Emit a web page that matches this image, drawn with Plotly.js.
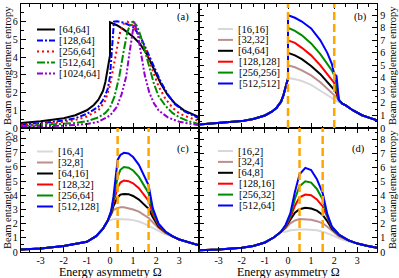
<!DOCTYPE html>
<html><head><meta charset="utf-8">
<script src="https://cdn.plot.ly/plotly-3.0.1.min.js"></script>
<style>html,body{margin:0;padding:0;background:#fff;overflow:hidden}</style>
</head><body><div id="chart" style="width:399px;height:278px"></div>
<script>
// ================= DATA =================
const xTickVals = [-3,-2,-1,0,1,2,3];
const xTickText = ["-3","-2","-1","0","1","2","3"];
const axisTitleY = "Beam entanglement entropy";
const axisTitleX = "Energy asymmetry Ω";
const panelLabels = ["(a)","(b)","(c)","(d)"];

// ---- panel (a) ----
const aLabels = ["[64,64]","[128,64]","[256,64]","[512,64]","[1024,64]"];
const aX64 = [-3.85,-3,-2,-1.5,-1,-0.7,-0.5,-0.3,-0.2,-0.1,-0.03,0,0,0.3,0.6,1.0,1.3,1.6,1.8,2.0,2.2,2.5,2.8,3.2,3.85];
const aY64 = [0.28,0.38,0.55,0.72,1.0,1.3,1.6,2.1,2.6,3.3,3.9,4.1,5.97,5.8,5.55,5.15,4.75,4.15,3.6,3.05,2.5,1.85,1.4,1.0,0.62];
const aX128 = [-3.85,-3,-2,-1.5,-1,-0.5,-0.25,-0.1,0,0.05,0.1,0.17,0.3,0.6,1.0,1.3,1.6,1.8,2.0,2.2,2.5,2.8,3.2,3.85];
const aY128 = [0.2,0.28,0.42,0.55,0.8,1.2,1.7,2.2,2.9,3.8,5.1,6.0,6.02,5.95,5.7,5.2,4.35,3.8,3.2,2.6,1.9,1.35,0.95,0.55];
const aX256 = [-3.85,-3,-2,-1.5,-1,-0.5,-0.2,0,0.15,0.3,0.45,0.6,0.75,0.9,1.1,1.3,1.55,1.8,2.1,2.4,2.7,3.0,3.4,3.85];
const aY256 = [0.15,0.22,0.34,0.45,0.65,1.0,1.55,2.4,3.4,4.6,5.5,5.9,6.0,5.9,5.55,5.1,4.4,3.4,2.35,1.65,1.15,0.82,0.6,0.4];
const aX512 = [-3.85,-3,-2,-1.5,-1,-0.5,-0.2,0,0.2,0.4,0.6,0.75,0.9,1.0,1.15,1.3,1.5,1.7,1.9,2.1,2.4,2.7,3.0,3.4,3.85];
const aY512 = [0.1,0.15,0.22,0.28,0.38,0.6,0.85,1.15,1.8,2.9,4.4,5.4,5.95,6.0,5.8,5.3,4.4,3.5,2.5,1.8,1.25,0.85,0.6,0.38,0.22];
const aX1024 = [-3.85,-3,-2,-1,-0.5,0,0.3,0.5,0.7,0.85,1.0,1.05,1.2,1.35,1.5,1.7,1.9,2.1,2.5,3.0,3.85];
const aY1024 = [0.08,0.1,0.13,0.22,0.35,0.7,1.2,1.9,2.9,4.3,5.7,6.0,5.3,4.1,3.0,2.0,1.4,1.0,0.6,0.35,0.15];

// ---- panel (b) ----
const bLabels = ["[16,16]","[32,32]","[64,64]","[128,128]","[256,256]","[512,512]"];
const bLeftX = [-3.85,-3,-2,-1.5,-1,-0.7,-0.5,-0.3,-0.2,-0.1,-0.03,0];
const bLeftY = [0.28,0.38,0.55,0.72,1.0,1.3,1.6,2.1,2.6,3.3,3.75,3.95];
const bMidX = [0,0.3,0.6,1.0,1.4,1.7,1.9,2.0,2.1,2.2];
const bY16  = [4.0,3.9,3.75,3.45,3.0,2.65,2.4,2.25,2.15,2.1];
const bY32  = [5.0,4.85,4.6,4.2,3.65,3.15,2.85,2.65,2.45,2.15];
const bY64  = [6.0,5.8,5.5,4.95,4.3,3.7,3.3,3.05,2.75,2.25];
const bY128 = [7.0,6.8,6.4,5.8,5.0,4.3,3.9,3.6,3.0,2.25];
const bY256 = [8.0,7.75,7.4,6.75,5.9,5.1,4.6,4.2,3.5,2.25];
const bY512 = [9.0,8.8,8.5,7.95,7.0,6.0,5.1,4.3,4.15,2.25];
const bRightX = [2.35,2.5,2.8,3.2,3.5,3.85];
const bRightY = [1.95,1.8,1.42,1.02,0.83,0.62];
const bLines = [0, 2];

// ---- panel (c) ----
const cLabels = ["[16,4]","[32,8]","[64,16]","[128,32]","[256,64]","[512,128]"];
const cLeftX = [-3.85,-3,-2,-1.5,-1,-0.6,-0.3,-0.1];
const cLeftY = [0.17,0.25,0.42,0.55,0.72,1.12,1.65,2.2];
const cMidX = [0.05,0.15,0.25,0.33,0.45,0.6,0.8,1.0,1.25,1.5,1.67,1.85,2.1,2.4];
const cY16  = [2.3,2.32,2.33,2.33,2.33,2.33,2.3,2.25,2.15,1.98,1.85,1.7,1.5,1.25];
const cY32  = [2.6,2.95,3.05,3.1,3.15,3.15,3.1,3.0,2.85,2.6,2.4,2.1,1.7,1.35];
const cY64  = [2.7,3.25,3.65,3.85,4.05,4.1,4.08,3.95,3.7,3.3,3.05,2.45,1.8,1.38];
const cY128 = [2.8,3.5,4.1,4.55,4.9,5.05,5.0,4.85,4.5,3.95,3.6,2.7,1.9,1.4];
const cY256 = [2.85,3.7,4.6,5.3,5.8,6.0,5.95,5.75,5.3,4.65,4.15,2.9,1.95,1.42];
const cY512 = [2.9,3.9,5.4,6.5,6.85,7.0,6.95,6.7,6.15,5.35,4.7,3.1,2.0,1.45];
const cRightX = [2.7,3.0,3.4,3.85];
const cRightY = [1.1,0.88,0.68,0.47];
const cLines = [0.33, 1.67];

// ---- panel (d) ----
const dLabels = ["[16,2]","[32,4]","[64,8]","[128,16]","[256,32]","[512,64]"];
const dLeftX = [-3.85,-3,-2,-1.5,-1,-0.6,-0.3];
const dLeftY = [0.12,0.17,0.3,0.43,0.68,1.05,1.45];
const dMidX = [-0.1,0.1,0.3,0.5,0.75,1.0,1.25,1.5,1.7,1.9,2.2,2.6];
const dY16  = [1.45,1.55,1.6,1.6,1.6,1.58,1.55,1.45,1.35,1.2,0.98,0.75];
const dY32  = [1.7,2.05,2.25,2.35,2.35,2.3,2.2,2.05,1.8,1.5,1.12,0.82];
const dY64  = [1.8,2.3,2.8,3.05,3.15,3.1,2.95,2.65,2.2,1.65,1.2,0.85];
const dY128 = [1.85,2.45,3.3,3.9,4.1,4.05,3.75,3.25,2.45,1.75,1.22,0.85];
const dY256 = [1.9,2.6,3.8,4.7,5.05,4.95,4.5,3.75,2.6,1.8,1.25,0.85];
const dY512 = [1.95,2.75,4.3,5.55,6.0,5.85,5.2,4.2,2.7,1.8,1.25,0.85];
const dRightX = [3.0,3.4,3.85];
const dRightY = [0.6,0.45,0.3];
const dLines = [0.5, 1.5];

// ================= STYLES =================
const serif = 'Liberation Serif, "Times New Roman", serif';
const aColors = ['#000000','#0000ff','#ff0000','#008c00','#9400d3'];
const aDashes = ['solid','6px,2px,2px,2px','2px,3px','8px,2px,2px,2px','6px,2px,2px,2px,2px,2px'];
const sixColors = ['#d8d8d8','#bc8f8f','#000000','#ff0000','#008c00','#0000ff'];
const lineW = 2;

// ================= BUILD =================
const traces = [];
function add(x, y, xa, ya, color, dash){
  traces.push({x:x, y:y, xaxis:xa, yaxis:ya, type:'scatter', mode:'lines',
    line:{color:color, width:lineW, dash:dash||'solid'}, showlegend:false, hoverinfo:'skip'});
}
const aSeries = [[aX64,aY64],[aX128,aY128],[aX256,aY256],[aX512,aY512],[aX1024,aY1024]];
aSeries.forEach((s,i)=>add(s[0], s[1], 'x','y', aColors[i], aDashes[i]));

const bY = [bY16,bY32,bY64,bY128,bY256,bY512];
bY.forEach((ys,i)=>add(bLeftX.concat(bMidX, bRightX), bLeftY.concat(ys, bRightY), 'x2','y2', sixColors[i]));
const cY = [cY16,cY32,cY64,cY128,cY256,cY512];
cY.forEach((ys,i)=>add(cLeftX.concat(cMidX, cRightX), cLeftY.concat(ys, cRightY), 'x3','y3', sixColors[i]));
const dY = [dY16,dY32,dY64,dY128,dY256,dY512];
dY.forEach((ys,i)=>add(dLeftX.concat(dMidX, dRightX), dLeftY.concat(ys, dRightY), 'x4','y4', sixColors[i]));

// geometry helpers (pixel -> paper)
const L = 21, R = 377, T = 4, B = 252;
const px = v => (v - L) / (R - L);
const py = v => (B - v) / (B - T);

function axis(extra){
  return Object.assign({
    showline:true, linecolor:'black', linewidth:1.3, mirror:'allticks',
    ticks:'inside', ticklen:5, tickwidth:1, tickcolor:'black',
    zeroline:false, showgrid:false, fixedrange:true,
    minor:{dtick:0.5, ticks:'inside', ticklen:2.5, tickwidth:1, tickcolor:'black', showgrid:false},
    tickfont:{family:serif, size:10, color:'black'}
  }, extra);
}
const xr = [-3.85, 3.85];
const layout = {
  width:399, height:278, margin:{l:L, r:399-R, t:T, b:278-B},
  paper_bgcolor:'white', plot_bgcolor:'white', showlegend:false,
  font:{family:serif, color:'black'},
  xaxis: axis({domain:[0,0.5], anchor:'y', range:xr, tickvals:xTickVals, ticktext:xTickText, showticklabels:false}),
  yaxis: axis({domain:[0.5,1], anchor:'x', range:[0,7], dtick:1, tick0:0}),
  xaxis2: axis({domain:[0.5,1], anchor:'y2', range:xr, tickvals:xTickVals, ticktext:xTickText, showticklabels:false}),
  yaxis2: axis({domain:[0.5,1], anchor:'x2', range:[0,9.9], dtick:1, tick0:0, side:'right'}),
  xaxis3: axis({domain:[0,0.5], anchor:'y3', range:xr, tickvals:xTickVals, ticktext:xTickText, ticklabelstandoff:-1}),
  yaxis3: axis({domain:[0,0.5], anchor:'x3', range:[0,8.75], dtick:1, tick0:0}),
  xaxis4: axis({domain:[0.5,1], anchor:'y4', range:xr, tickvals:xTickVals, ticktext:xTickText, ticklabelstandoff:-1}),
  yaxis4: axis({domain:[0,0.5], anchor:'x4', range:[0,8.85], dtick:1, tick0:0, side:'right'}),
  shapes:[], annotations:[]
};

// orange dashed guide lines
function vlines(vals, xa, ya){
  vals.forEach(v=>layout.shapes.push({type:'line', xref:xa, yref:ya+' domain', x0:v, x1:v, y0:0, y1:1,
    line:{color:'#ffa500', width:2.5, dash:'8px,4px'}, layer:'above'}));
}
vlines(bLines,'x2','y2'); vlines(cLines,'x3','y3'); vlines(dLines,'x4','y4');

// custom legends
function legend(labels, colors, dashes, sx0, sx1, tx, y0, dy){
  labels.forEach((lab,i)=>{
    const yy = y0 + i*dy;
    layout.shapes.push({type:'line', xref:'paper', yref:'paper', x0:px(sx0), x1:px(sx1), y0:py(yy), y1:py(yy),
      line:{color:colors[i], width:lineW, dash:dashes ? dashes[i] : 'solid'}});
    layout.annotations.push({xref:'paper', yref:'paper', x:px(tx), y:py(yy), xanchor:'left', yanchor:'middle',
      text:lab, showarrow:false, font:{family:serif, size:10.5, color:'black'}, borderpad:0});
  });
}
legend(aLabels, aColors, aDashes, 37, 55, 58, 29.5, 11);
legend(bLabels, sixColors, null, 218, 233, 237.5, 29, 10.9);
legend(cLabels, sixColors, null, 37, 53, 56.5, 151.5, 11);
legend(dLabels, sixColors, null, 218, 233, 237.5, 151, 10.9);

// panel labels
[[183,17],[360,17],[183,149],[358,149]].forEach((p,i)=>layout.annotations.push({
  xref:'paper', yref:'paper', x:px(p[0]), y:py(p[1]), xanchor:'center', yanchor:'middle',
  text:panelLabels[i], showarrow:false, font:{family:serif, size:10.5, color:'black'}}));

// axis titles
[[7,66],[7,190],[392,66],[392,190]].forEach(p=>layout.annotations.push({
  xref:'paper', yref:'paper', x:px(p[0]), y:py(p[1]), xanchor:'center', yanchor:'middle', textangle:-90,
  text:axisTitleY, showarrow:false, font:{family:serif, size:10.5, color:'black'}, borderpad:0}));
[[110,272],[288,272]].forEach(p=>layout.annotations.push({
  xref:'paper', yref:'paper', x:px(p[0]), y:py(p[1]), xanchor:'center', yanchor:'middle',
  text:axisTitleX, showarrow:false, font:{family:serif, size:12, color:'black'}, borderpad:0}));

Plotly.newPlot('chart', traces, layout, {displayModeBar:false, staticPlot:true});
</script></body></html>
